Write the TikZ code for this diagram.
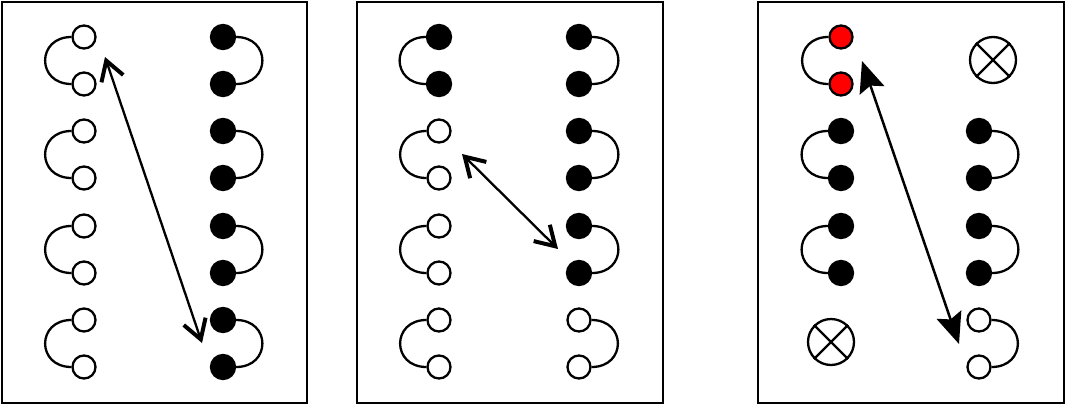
\documentclass[tikz,border=0pt]{standalone}
\usetikzlibrary{arrows.meta}

\tikzset{
  hole/.style={circle, draw, fill=white, line width=2.3pt, inner sep=0pt, minimum size=23pt},
  elec/.style={hole, fill=black, minimum size=24pt},
  exc/.style={hole, fill=red},
  vac/.style={hole, minimum size=46pt},
  bond/.style={line width=2.3pt},
  hop/.style={line width=2.3pt, {Straight Barb[length=19pt,width=23pt,line width=4pt]}-{Straight Barb[length=19pt,width=23pt,line width=4pt]}},
  jump/.style={line width=2.5pt, {Stealth[length=31pt,width=26pt,inset=5pt]}-{Stealth[length=31pt,width=26pt,inset=5pt]}},
  panel/.style={draw, line width=2.6pt}
}

\begin{document}
\begin{tikzpicture}[x=1pt, y=-1pt]
  \useasboundingbox (0,0) rectangle (1066,405);
  \draw[panel] (2,2) rectangle (307,403);
  \draw[panel] (357,2) rectangle (663,403);
  \draw[panel] (758,2) rectangle (1064,403);

  % first panel
  \foreach \n/\y/\ls/\rs in {1/37/hole/elec, 2/131/hole/elec, 3/226/hole/elec, 4/320/hole/elec} {
    \node[\ls] (Ala\n) at (84,\y) {};
    \node[\ls] (Alb\n) at (84,\y+47) {};
    \node[\rs] (Ara\n) at (223,\y) {};
    \node[\rs] (Arb\n) at (223,\y+47) {};
    \draw[bond] (Ala\n.west) .. controls +(-35,0) and +(-35,0) .. (Alb\n.west);
    \draw[bond] (Ara\n.east) .. controls +(35,0) and +(35,0) .. (Arb\n.east);
  }
  \coordinate (As) at (105,57);
  \coordinate (Ae) at (202,343);
  \draw[hop] (As) -- (Ae);

  % second panel
  \foreach \n/\y/\ls/\rs in {1/37/elec/elec, 2/131/hole/elec, 3/226/hole/elec, 4/320/hole/hole} {
    \node[\ls] (Bla\n) at (439,\y) {};
    \node[\ls] (Blb\n) at (439,\y+47) {};
    \node[\rs] (Bra\n) at (579,\y) {};
    \node[\rs] (Brb\n) at (579,\y+47) {};
    \draw[bond] (Bla\n.west) .. controls +(-35,0) and +(-35,0) .. (Blb\n.west);
    \draw[bond] (Bra\n.east) .. controls +(35,0) and +(35,0) .. (Brb\n.east);
  }
  \coordinate (Bs) at (462,154);
  \coordinate (Be) at (558,249);
  \draw[hop] (Bs) -- (Be);

  % third panel
  \foreach \n/\y/\ls in {1/37/exc, 2/131/elec, 3/226/elec} {
    \node[\ls] (Cla\n) at (841,\y) {};
    \node[\ls] (Clb\n) at (841,\y+47) {};
    \draw[bond] (Cla\n.west) .. controls +(-35,0) and +(-35,0) .. (Clb\n.west);
  }
  \foreach \n/\y/\rs in {2/131/elec, 3/226/elec, 4/320/hole} {
    \node[\rs] (Cra\n) at (979,\y) {};
    \node[\rs] (Crb\n) at (979,\y+47) {};
    \draw[bond] (Cra\n.east) .. controls +(35,0) and +(35,0) .. (Crb\n.east);
  }
  \node[vac] (Cl4) at (831,342) {};
  \node[vac] (Cr1) at (993,60) {};
  \draw[bond] (Cl4.north west) -- (Cl4.south east) (Cl4.north east) -- (Cl4.south west);
  \draw[bond] (Cr1.north west) -- (Cr1.south east) (Cr1.north east) -- (Cr1.south west);
  \coordinate (Cs) at (862,61);
  \coordinate (Ce) at (959,344);
  \draw[jump] (Cs) -- (Ce);
\end{tikzpicture}
\end{document}
